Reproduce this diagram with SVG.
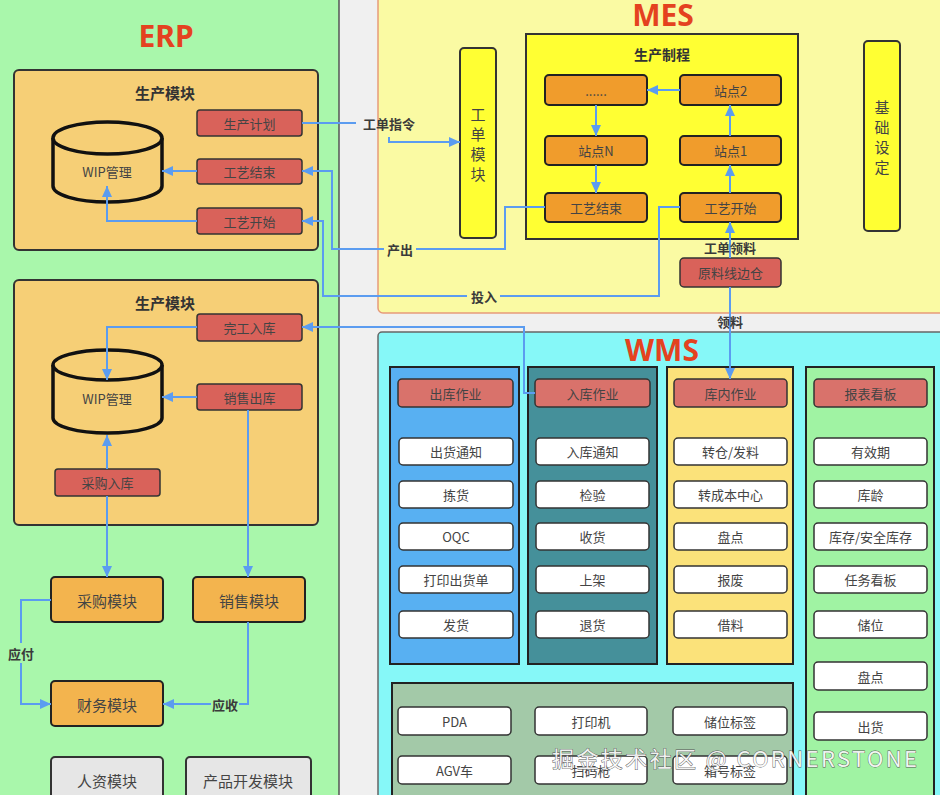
<svg xmlns="http://www.w3.org/2000/svg" width="940" height="795" viewBox="0 0 940 795">
<defs>
<marker id="ah" markerUnits="userSpaceOnUse" markerWidth="12" markerHeight="12" refX="11" refY="6" orient="auto">
<path d="M0,1 L11,6 L0,11 z" fill="#5b9cf0"/>
</marker>
<style>
.t{font-family:"Noto Sans CJK SC","Noto Sans",sans-serif;font-size:13px;fill:#444;text-anchor:middle;dominant-baseline:central}
.v{font-family:"Noto Sans CJK SC","Noto Sans",sans-serif;font-size:15px;fill:#444;text-anchor:middle;dominant-baseline:central}
.tb{font-family:"Noto Sans CJK SC","Noto Sans",sans-serif;font-size:15px;font-weight:bold;fill:#333;text-anchor:middle;dominant-baseline:central}
.lbl{font-family:"Noto Sans CJK SC","Noto Sans",sans-serif;font-size:13px;font-weight:bold;fill:#3a3a3a;text-anchor:middle;dominant-baseline:central}
.big{font-family:"Noto Sans","Open Sans",sans-serif;font-size:30px;font-weight:bold;fill:#e4421f;text-anchor:middle}
.red{fill:#d9625a;stroke:#333;stroke-width:1.5}
.hdr{fill:#d9726b;stroke:#333;stroke-width:1.5}
.org{fill:#f09c2c;stroke:#222;stroke-width:2}
.mod{fill:#f3b44e;stroke:#222;stroke-width:2}
.gry{fill:#e6e6e6;stroke:#333;stroke-width:2}
.wht{fill:#ffffff;stroke:#333;stroke-width:1.5}
.ylw{fill:#ffff33;stroke:#333;stroke-width:2}
.cyl{fill:#f6cf76;stroke:#111;stroke-width:3.5}
.conn{fill:none;stroke:#5b9cf0;stroke-width:2}
</style>
</defs>
<rect x="0" y="0" width="940" height="795" fill="#f0f0f0"/>

<!-- ERP -->
<g id="erp">
<rect x="-5" y="-5" width="344" height="810" fill="#a9f7ab" stroke="#555" stroke-width="1.5"/>
<text class="big" x="166" y="47">ERP</text>
</g>
<g id="erp-prod1">
<rect x="14" y="70" width="304" height="180" rx="5" fill="#f6cf76" stroke="#333" stroke-width="2"/>
<text class="tb" x="165" y="92">生产模块</text>
</g>
<g id="wip1">
<path class="cyl" d="M53,138 V186 A54.5,16 0 0 0 162,186 V138"/>
<ellipse class="cyl" cx="107.5" cy="138" rx="54.5" ry="16"/>
<text class="t" x="107" y="171">WIP管理</text>
</g>
<g id="erp-plan"><rect class="red" x="197" y="110" width="105" height="26" rx="3"/><text class="t" x="249.5" y="123">生产计划</text></g>
<g id="erp-end"><rect class="red" x="197" y="159" width="105" height="25" rx="3"/><text class="t" x="249.5" y="171.5">工艺结束</text></g>
<g id="erp-start"><rect class="red" x="197" y="208" width="105" height="26" rx="3"/><text class="t" x="249.5" y="221">工艺开始</text></g>

<g id="erp-prod2">
<rect x="14" y="280" width="304" height="245" rx="5" fill="#f6cf76" stroke="#333" stroke-width="2"/>
<text class="tb" x="165" y="302">生产模块</text>
</g>
<g id="wip2">
<path class="cyl" d="M53,365 V418 A54.5,15 0 0 0 162,418 V365"/>
<ellipse class="cyl" cx="107.5" cy="365" rx="54.5" ry="15"/>
<text class="t" x="107" y="398">WIP管理</text>
</g>
<g id="erp-finish"><rect class="red" x="197" y="314" width="105" height="27" rx="3"/><text class="t" x="249.5" y="327.5">完工入库</text></g>
<g id="erp-sale"><rect class="red" x="197" y="384" width="105" height="26" rx="3"/><text class="t" x="249.5" y="397">销售出库</text></g>
<g id="erp-purin"><rect class="red" x="55" y="469" width="105" height="27" rx="3"/><text class="t" x="107.5" y="482.5">采购入库</text></g>

<g id="purchase"><rect class="mod" x="51" y="577" width="112" height="45" rx="4"/><text class="t" x="107" y="600" style="font-size:15px">采购模块</text></g>
<g id="sales"><rect class="mod" x="193" y="577" width="112" height="45" rx="4"/><text class="t" x="249" y="600" style="font-size:15px">销售模块</text></g>
<g id="finance"><rect class="mod" x="51" y="681" width="112" height="45" rx="4"/><text class="t" x="107" y="704" style="font-size:15px">财务模块</text></g>
<g id="hr"><rect class="gry" x="51" y="757" width="112" height="50" rx="4"/><text class="t" x="107" y="780" style="font-size:15px">人资模块</text></g>
<g id="pd"><rect class="gry" x="186" y="757" width="125" height="50" rx="4"/><text class="t" x="248" y="780" style="font-size:15px">产品开发模块</text></g>

<!-- MES -->
<g id="mes">
<rect x="378" y="-10" width="580" height="323" rx="5" fill="#fafaa3" stroke="#e69a7a" stroke-width="1.5"/>
<text class="big" x="663" y="26">MES</text>
</g>
<g id="wo-module">
<rect class="ylw" x="460" y="48" width="36" height="190" rx="4"/>
<text class="v" x="478" y="113">工</text>
<text class="v" x="478" y="133">单</text>
<text class="v" x="478" y="153">模</text>
<text class="v" x="478" y="173">块</text>
</g>
<g id="process">
<rect class="ylw" x="526" y="34" width="272" height="205"/>
<text class="tb" x="662" y="54" style="font-size:14px">生产制程</text>
</g>
<g id="m-dots"><rect class="org" x="545" y="75" width="102" height="30" rx="4"/><text class="t" x="596" y="90">......</text></g>
<g id="m-s2"><rect class="org" x="680" y="75" width="101" height="30" rx="4"/><text class="t" x="730.5" y="90">站点2</text></g>
<g id="m-sn"><rect class="org" x="545" y="136" width="102" height="29" rx="4"/><text class="t" x="596" y="150.5">站点N</text></g>
<g id="m-s1"><rect class="org" x="680" y="136" width="101" height="29" rx="4"/><text class="t" x="730.5" y="150.5">站点1</text></g>
<g id="m-end"><rect class="org" x="545" y="193" width="102" height="29" rx="4"/><text class="t" x="596" y="207.5">工艺结束</text></g>
<g id="m-start"><rect class="org" x="680" y="193" width="101" height="29" rx="4"/><text class="t" x="730.5" y="207.5">工艺开始</text></g>
<g id="basic">
<rect class="ylw" x="864" y="41" width="36" height="190" rx="4"/>
<text class="v" x="882" y="106">基</text>
<text class="v" x="882" y="126">础</text>
<text class="v" x="882" y="146">设</text>
<text class="v" x="882" y="166">定</text>
</g>
<g id="line-store"><rect class="red" x="680" y="258" width="101" height="29" rx="4"/><text class="t" x="730.5" y="272.5">原料线边仓</text></g>

<!-- WMS -->
<g id="wms">
<rect x="378" y="332" width="570" height="470" rx="4" fill="#86f8f8" stroke="#666" stroke-width="1.5"/>
<text class="big" x="662" y="361">WMS</text>
</g>
<g id="col-out">
<rect x="390" y="367" width="129" height="297" fill="#58b0f2" stroke="#222" stroke-width="2"/>
<rect class="hdr" x="398" y="379" width="115" height="28" rx="4"/><text class="t" x="455.5" y="393">出库作业</text>
<rect class="wht" x="399" y="438" width="114" height="27" rx="4"/><text class="t" x="456" y="451.5">出货通知</text>
<rect class="wht" x="399" y="481" width="114" height="27" rx="4"/><text class="t" x="456" y="494.5">拣货</text>
<rect class="wht" x="399" y="523" width="114" height="27" rx="4"/><text class="t" x="456" y="536.5">OQC</text>
<rect class="wht" x="399" y="566" width="114" height="27" rx="4"/><text class="t" x="456" y="579.5">打印出货单</text>
<rect class="wht" x="399" y="611" width="114" height="27" rx="4"/><text class="t" x="456" y="624.5">发货</text>
</g>
<g id="col-in">
<rect x="528" y="367" width="129" height="297" fill="#45909a" stroke="#222" stroke-width="2"/>
<rect class="hdr" x="535" y="379" width="115" height="28" rx="4"/><text class="t" x="592.5" y="393">入库作业</text>
<rect class="wht" x="536" y="438" width="113" height="27" rx="4"/><text class="t" x="592.5" y="451.5">入库通知</text>
<rect class="wht" x="536" y="481" width="113" height="27" rx="4"/><text class="t" x="592.5" y="494.5">检验</text>
<rect class="wht" x="536" y="523" width="113" height="27" rx="4"/><text class="t" x="592.5" y="536.5">收货</text>
<rect class="wht" x="536" y="566" width="113" height="27" rx="4"/><text class="t" x="592.5" y="579.5">上架</text>
<rect class="wht" x="536" y="611" width="113" height="27" rx="4"/><text class="t" x="592.5" y="624.5">退货</text>
</g>
<g id="col-inner">
<rect x="667" y="367" width="126" height="297" fill="#fbe27a" stroke="#222" stroke-width="2"/>
<rect class="hdr" x="674" y="379" width="113" height="28" rx="4"/><text class="t" x="730.5" y="393">库内作业</text>
<rect class="wht" x="674" y="438" width="113" height="27" rx="4"/><text class="t" x="730.5" y="451.5">转仓/发料</text>
<rect class="wht" x="674" y="481" width="113" height="27" rx="4"/><text class="t" x="730.5" y="494.5">转成本中心</text>
<rect class="wht" x="674" y="523" width="113" height="27" rx="4"/><text class="t" x="730.5" y="536.5">盘点</text>
<rect class="wht" x="674" y="566" width="113" height="27" rx="4"/><text class="t" x="730.5" y="579.5">报废</text>
<rect class="wht" x="674" y="611" width="113" height="27" rx="4"/><text class="t" x="730.5" y="624.5">借料</text>
</g>
<g id="col-report">
<rect x="806" y="367" width="128" height="440" fill="#a0f3a3" stroke="#222" stroke-width="2"/>
<rect class="hdr" x="814" y="379" width="113" height="28" rx="4"/><text class="t" x="870.5" y="393">报表看板</text>
<rect class="wht" x="814" y="438" width="113" height="27" rx="4"/><text class="t" x="870.5" y="451.5">有效期</text>
<rect class="wht" x="814" y="481" width="113" height="27" rx="4"/><text class="t" x="870.5" y="494.5">库龄</text>
<rect class="wht" x="814" y="523" width="113" height="27" rx="4"/><text class="t" x="870.5" y="536.5">库存/安全库存</text>
<rect class="wht" x="814" y="566" width="113" height="27" rx="4"/><text class="t" x="870.5" y="579.5">任务看板</text>
<rect class="wht" x="814" y="611" width="113" height="27" rx="4"/><text class="t" x="870.5" y="624.5">储位</text>
<rect class="wht" x="814" y="662" width="113" height="28" rx="4"/><text class="t" x="870.5" y="676">盘点</text>
<rect class="wht" x="814" y="712" width="113" height="28" rx="4"/><text class="t" x="870.5" y="726">出货</text>
</g>
<g id="equip">
<rect x="392" y="683" width="401" height="125" fill="#a3c9a8" stroke="#222" stroke-width="2"/>
<rect class="wht" x="398" y="707" width="113" height="28" rx="4"/><text class="t" x="454.5" y="721">PDA</text>
<rect class="wht" x="535" y="707" width="112" height="28" rx="4"/><text class="t" x="591" y="721">打印机</text>
<rect class="wht" x="673" y="707" width="114" height="28" rx="4"/><text class="t" x="730" y="721">储位标签</text>
<rect class="wht" x="398" y="756" width="113" height="28" rx="4"/><text class="t" x="454.5" y="770">AGV车</text>
<rect class="wht" x="535" y="756" width="112" height="28" rx="4"/><text class="t" x="591" y="770">扫码枪</text>
<rect class="wht" x="673" y="756" width="114" height="28" rx="4"/><text class="t" x="730" y="770">箱号标签</text>
</g>

<!-- connectors -->
<g id="connectors">
<path class="conn" d="M302,123 H356"/>
<path class="conn" d="M389,137 V142 H460" marker-end="url(#ah)"/>
<path class="conn" d="M545,207 H505 V249 H416"/>
<path class="conn" d="M384,249 H332 V171 H302" marker-end="url(#ah)"/>
<path class="conn" d="M680,207 H659 V296 H500"/>
<path class="conn" d="M467,296 H323 V221 H302" marker-end="url(#ah)"/>
<path class="conn" d="M535,393 H524 V327 H302" marker-end="url(#ah)"/>
<path class="conn" d="M197,171 H162" marker-end="url(#ah)"/>
<path class="conn" d="M197,221 H107 V186" marker-end="url(#ah)"/>
<path class="conn" d="M197,327 H107 V380" marker-end="url(#ah)"/>
<path class="conn" d="M197,397 H162" marker-end="url(#ah)"/>
<path class="conn" d="M107,469 V435" marker-end="url(#ah)"/>
<path class="conn" d="M107,496 V577" marker-end="url(#ah)"/>
<path class="conn" d="M248,410 V577" marker-end="url(#ah)"/>
<path class="conn" d="M51,600 H21 V704 H51" marker-end="url(#ah)"/>
<path class="conn" d="M248,622 V704 H163" marker-end="url(#ah)"/>
<path class="conn" d="M680,90 H647" marker-end="url(#ah)"/>
<path class="conn" d="M596,105 V136" marker-end="url(#ah)"/>
<path class="conn" d="M596,165 V193" marker-end="url(#ah)"/>
<path class="conn" d="M730,193 V165" marker-end="url(#ah)"/>
<path class="conn" d="M730,136 V105" marker-end="url(#ah)"/>
<path class="conn" d="M730,258 V222" marker-end="url(#ah)"/>
<path class="conn" d="M730,287 V379" marker-end="url(#ah)"/>
<rect x="11" y="643" width="20" height="20" fill="#a9f7ab"/>
<rect x="211" y="695" width="28" height="18" fill="#a9f7ab"/>
<text class="lbl" x="389" y="123">工单指令</text>
<text class="lbl" x="400" y="249">产出</text>
<text class="lbl" x="484" y="296">投入</text>
<text class="lbl" x="21" y="653">应付</text>
<text class="lbl" x="225" y="704">应收</text>
<text class="lbl" x="730" y="247">工单领料</text>
<text class="lbl" x="730" y="321">领料</text>
</g>

<text x="552" y="767" textLength="365" style="font-family:'Noto Sans CJK SC','Noto Sans',sans-serif;font-size:22px;fill:#ffffff;fill-opacity:0.9;stroke:#555;stroke-width:0.8;paint-order:stroke">掘金技术社区 @ CORNERSTONE</text>
</svg>
